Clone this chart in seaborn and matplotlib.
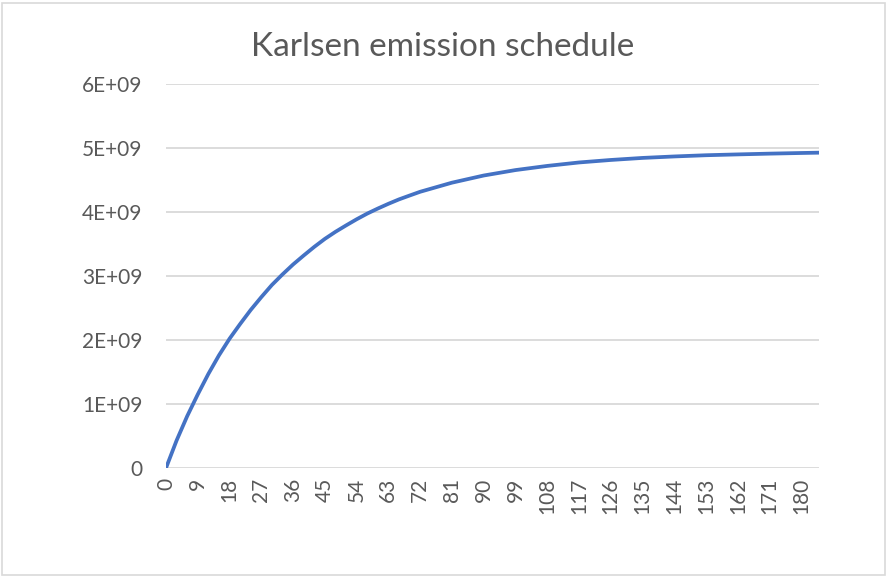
import matplotlib
matplotlib.use("Agg")
import matplotlib.pyplot as plt
import seaborn as sns
import pandas as pd
from matplotlib.ticker import FuncFormatter
from matplotlib.patches import Rectangle

# values (in units of 1e9)
block = [0, 3, 6, 9, 12, 15, 18, 21, 24, 27, 30, 33, 36, 39, 42, 45, 48, 51, 54, 57,
         60, 63, 66, 69, 72, 81, 90, 99, 108, 117, 126, 135, 144, 153, 162, 171, 180, 185]
supply = [0, 0.43, 0.81, 1.15, 1.47, 1.76, 2.02, 2.25, 2.47, 2.67, 2.86, 3.025, 3.18,
          3.32, 3.455, 3.58, 3.69, 3.79, 3.886, 3.975, 4.054, 4.128, 4.197, 4.257,
          4.316, 4.458, 4.57, 4.655, 4.72, 4.774, 4.813, 4.845, 4.868, 4.887, 4.90,
          4.912, 4.922, 4.927]
x_ticks = list(range(0, 181, 9))
y_ticks = [0, 1e9, 2e9, 3e9, 4e9, 5e9, 6e9]

df = pd.DataFrame({"block": block, "supply": [v * 1e9 for v in supply]})

sns.set_style("white")
plt.rcParams["font.family"] = ["Lato", "DejaVu Sans"]

fig = plt.figure(figsize=(8.87, 5.77), dpi=100)
ax = fig.add_axes([166 / 887, 1 - 468 / 577, (819 - 166) / 887, (468 - 84) / 577])

sns.lineplot(data=df, x="block", y="supply", ax=ax, color="#4472C4", linewidth=2.7)
for ln in ax.lines:
    ln.set_solid_joinstyle("round")
    ln.set_solid_capstyle("round")

ax.set_xlim(0, 185)
ax.set_ylim(0, 6e9)
ax.set_xticks(x_ticks)
ax.set_yticks(y_ticks)
ax.yaxis.set_major_formatter(
    FuncFormatter(lambda v, p: "0" if v == 0 else f"{v/1e9:.0f}E+09"))
ax.tick_params(axis="x", labelrotation=90, length=0, pad=7, labelsize=15, colors="#595959")
ax.tick_params(axis="y", length=0, pad=17, labelsize=15, colors="#595959")
ax.grid(axis="y", color="#d9d9d9", linewidth=1.3)
ax.set_axisbelow(True)
for s in ax.spines.values():
    s.set_visible(False)
ax.set_xlabel("")
ax.set_ylabel("")

fig.text(443 / 887, 1 - 47 / 577, "Karlsen emission schedule", ha="center", va="center",
         fontsize=24, color="#595959")

# chart frame
fig.patches.append(Rectangle((2 / 887, 2 / 577), 883 / 887, 572 / 577, transform=fig.transFigure,
                             fill=False, edgecolor="#d9d9d9", linewidth=1.2))

fig.savefig("out.png", dpi=100)
